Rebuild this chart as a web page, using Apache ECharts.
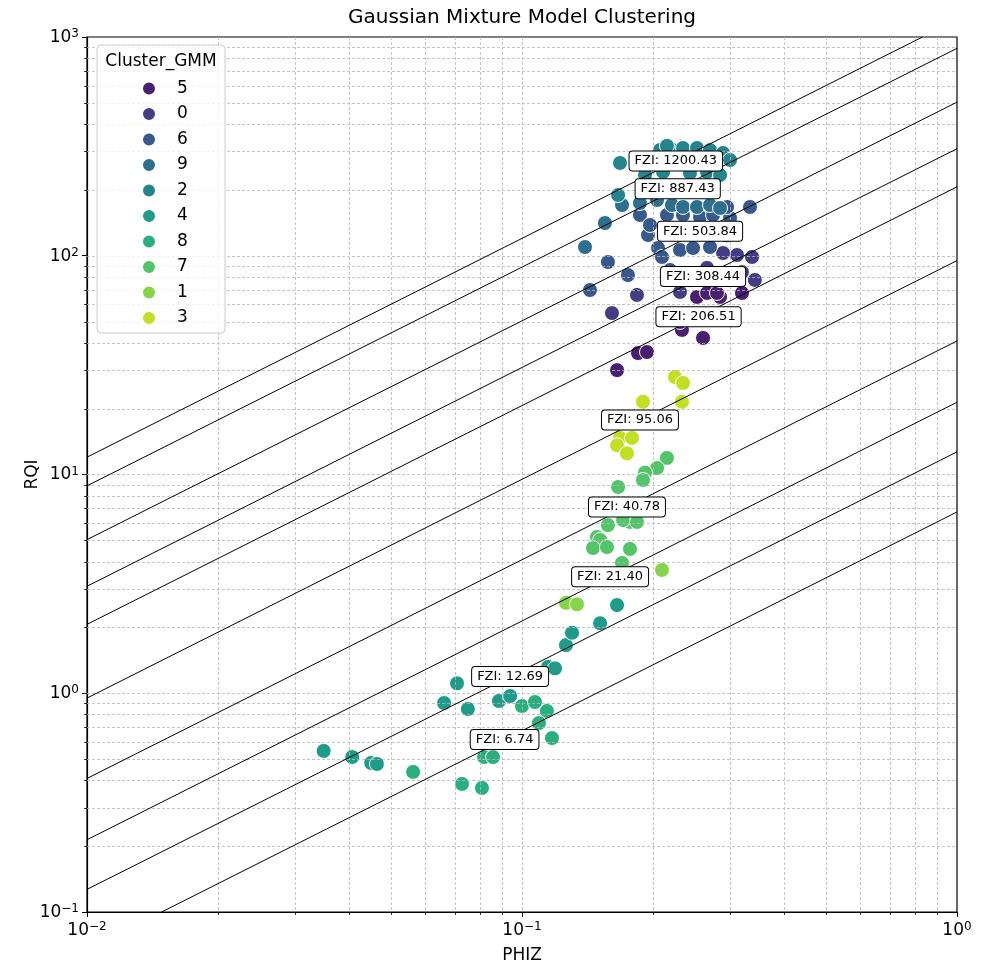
<!DOCTYPE html>
<html>
<head>
<meta charset="utf-8">
<script src="https://cdn.jsdelivr.net/npm/echarts@6/dist/echarts.min.js"></script>
<style>
  html, body { margin: 0; padding: 0; background: #fff; }
  #chart { width: 981px; height: 967px; }
</style>
</head>
<body>
<div id="chart"></div>
<script>
// Axis ranges (log-log)
const phizRange = [0.01, 1];
const rqiRange = [0.1, 1000];

// Flow-zone-indicator lines (RQI = FZI * PHIZ) and where each one is labelled
const fziValues = [1200.43, 887.43, 503.84, 308.44, 206.51, 95.06, 40.78, 21.40, 12.69, 6.74];
const fziLabelPhiz = [0.2257, 0.2280, 0.2566, 0.2607, 0.2546, 0.1867, 0.1743, 0.1594, 0.0939, 0.0912];

// Cluster order in the legend and the viridis colour of each cluster
const clusterOrder = ['5', '0', '6', '9', '2', '4', '8', '7', '1', '3'];
const clusterColors = ['#482071', '#433d84', '#38598c', '#2d708e', '#25858e',
                       '#1e9b8a', '#2ab07f', '#52c569', '#86d549', '#c2df23'];

// Samples per GMM cluster: [PHIZ, RQI]
const gmm5 = [[0.1848, 35.9], [0.1938, 36.3], [0.1654, 30.0], [0.2607, 42.1], [0.2332, 45.8],
              [0.2308, 49.8], [0.2525, 64.8], [0.2663, 67.6], [0.2853, 64.8], [0.3204, 67.6], [0.2807, 67.6]];
const gmm0 = [[0.1838, 66.2], [0.1610, 54.7], [0.2308, 68.3], [0.3379, 98.7], [0.3121, 100.8],
              [0.2899, 102.9], [0.2433, 77.5], [0.2853, 77.5], [0.3204, 84.2], [0.3430, 77.5], [0.2663, 88.0]];
const gmm6 = [[0.1576, 93.6], [0.1752, 81.6], [0.1433, 69.7], [0.1948, 124.4], [0.1867, 153.6],
              [0.1969, 138.2], [0.2154, 153.6], [0.2345, 153.6], [0.2566, 150.4], [0.2749, 153.6],
              [0.3008, 148.8], [0.2961, 167.1], [0.3343, 167.1], [0.2055, 108.5], [0.2098, 98.7],
              [0.2308, 106.2], [0.2473, 108.5], [0.2705, 109.6], [0.2189, 86.1], [0.2240, 128.0],
              [0.2640, 126.0], [0.2950, 124.0]];
const gmm9 = [[0.1396, 109.6], [0.1551, 141.1], [0.1698, 170.6], [0.1867, 174.2], [0.2044, 179.8],
              [0.2212, 170.6], [0.2345, 167.1], [0.2525, 167.1], [0.2705, 170.6], [0.2853, 165.3],
              [0.2000, 205.0], [0.2600, 200.0]];
const gmm2 = [[0.1680, 265.5], [0.1663, 189.5], [0.2076, 304.3], [0.2189, 310.9], [0.2345, 310.9],
              [0.2525, 310.9], [0.2705, 304.3], [0.2899, 294.9], [0.3008, 274.0], [0.2110, 241.5],
              [0.2433, 238.9], [0.2663, 241.5], [0.2154, 318.0], [0.1918, 233.9], [0.2853, 233.9],
              [0.2280, 275.0], [0.2600, 270.0]];
const gmm4 = [[0.0350, 0.545], [0.0407, 0.511], [0.0450, 0.480], [0.0464, 0.475], [0.0662, 0.902],
              [0.0709, 1.11], [0.0751, 0.847], [0.0885, 0.922], [0.0939, 0.971], [0.1148, 1.32],
              [0.1191, 1.30], [0.1262, 1.66], [0.1303, 1.89], [0.1512, 2.09], [0.1654, 2.53]];
const gmm8 = [[0.0562, 0.437], [0.0728, 0.385], [0.0809, 0.369], [0.0818, 0.511], [0.0858, 0.511],
              [0.1000, 0.874], [0.1071, 0.912], [0.1141, 0.830], [0.1094, 0.731], [0.1172, 0.624]];
const gmm7 = [[0.2154, 11.9], [0.2044, 10.7], [0.1918, 10.2], [0.1897, 9.44], [0.1663, 8.77],
              [0.1771, 6.07], [0.1707, 6.19], [0.1838, 6.07], [0.1576, 5.87], [0.1487, 5.18],
              [0.1512, 5.02], [0.1456, 4.61], [0.1568, 4.66], [0.1771, 4.57], [0.1698, 3.94]];
const gmm1 = [[0.2098, 3.66], [0.1262, 2.59], [0.1338, 2.55]];
const gmm3 = [[0.2248, 27.9], [0.2345, 26.2], [0.1897, 21.5], [0.2332, 21.5], [0.2189, 17.2],
              [0.1680, 14.7], [0.1790, 14.7], [0.1654, 13.6], [0.1743, 12.5]];

const clusterData = { '5': gmm5, '0': gmm0, '6': gmm6, '9': gmm9, '2': gmm2,
                      '4': gmm4, '8': gmm8, '7': gmm7, '1': gmm1, '3': gmm3 };

const FONT = 'DejaVu Sans';

// "10" with a raised exponent, like mathtext tick labels
function powLabel(v) {
  const e = Math.round(Math.log10(v));
  return '{b|10}{s|' + (e < 0 ? '\u2212' : '') + Math.abs(e) + '}';
}
const powRich = {
  b: { fontFamily: FONT, fontSize: 17, color: '#000', lineHeight: 18, verticalAlign: 'bottom' },
  s: { fontFamily: FONT, fontSize: 12, color: '#000', lineHeight: 8, verticalAlign: 'top' }
};

// Decade and sub-decade positions for the grid
function logSteps(lo, hi) {
  const out = [];
  for (let d = Math.round(Math.log10(lo)); d < Math.round(Math.log10(hi)); d++) {
    for (let k = 1; k <= 9; k++) out.push({ v: k * Math.pow(10, d), major: k === 1 });
  }
  return out;
}
const xSteps = logSteps(phizRange[0], phizRange[1]);
const ySteps = logSteps(rqiRange[0], rqiRange[1]);

// Grid lines (drawn over the markers) and minor ticks
function renderGrid(params, api) {
  const cs = params.coordSys;
  const L = cs.x, R = cs.x + cs.width, T = cs.y, B = cs.y + cs.height;
  const children = [];
  const gridStyle = { stroke: '#b8b8b8', lineWidth: 0.8, lineDash: [3, 2], fill: null };
  const tickStyle = { stroke: '#000', lineWidth: 0.8, fill: null };
  xSteps.forEach(s => {
    const px = Math.round(api.coord([s.v, 1])[0]) + 0.5;
    if (px > L + 1 && px < R - 1) {
      children.push({ type: 'line', shape: { x1: px, y1: T, x2: px, y2: B }, style: gridStyle });
    }
    if (!s.major && px > L && px < R) {
      children.push({ type: 'line', shape: { x1: px, y1: B, x2: px, y2: B + 3 }, style: tickStyle });
    }
  });
  ySteps.forEach(s => {
    const py = Math.round(api.coord([0.1, s.v])[1]) + 0.5;
    if (py > T + 1 && py < B - 1) {
      children.push({ type: 'line', shape: { x1: L, y1: py, x2: R, y2: py }, style: gridStyle });
    }
    if (!s.major && py > T && py < B) {
      children.push({ type: 'line', shape: { x1: L - 3, y1: py, x2: L, y2: py }, style: tickStyle });
    }
  });
  return { type: 'group', children };
}

const scatterSeries = clusterOrder.map((name, i) => ({
  name,
  type: 'scatter',
  data: clusterData[name],
  symbol: 'circle',
  symbolSize: 15,
  itemStyle: { color: clusterColors[i], borderColor: '#fff', borderWidth: 1, opacity: 1 },
  z: 2,
  silent: true
}));

const fziLineSeries = fziValues.map(f => {
  const xa = Math.max(phizRange[0], rqiRange[0] / f);
  const xb = Math.min(phizRange[1], rqiRange[1] / f);
  return {
    type: 'line',
    data: [[xa, f * xa], [xb, f * xb]],
    symbol: 'none',
    lineStyle: { color: '#000', width: 1 },
    z: 4,
    silent: true
  };
});

const fziLabelSeries = {
  type: 'scatter',
  data: fziValues.map((f, i) => [fziLabelPhiz[i], f * fziLabelPhiz[i], f]),
  symbolSize: 0.1,
  itemStyle: { color: 'rgba(0,0,0,0)', opacity: 1 },
  z: 6,
  silent: true,
  label: {
    show: true,
    position: 'inside',
    opacity: 1,
    formatter: p => 'FZI: ' + p.value[2].toFixed(2),
    fontFamily: FONT,
    fontSize: 13,
    color: '#000',
    backgroundColor: '#fff',
    borderColor: '#000',
    borderWidth: 1,
    borderRadius: 3,
    padding: [3, 5]
  }
};

const chart = echarts.init(document.getElementById('chart'), null, { renderer: 'canvas' });
chart.setOption({
  animation: false,
  backgroundColor: '#fff',
  textStyle: { fontFamily: FONT },
  grid: {
    left: 87, right: 24, top: 37, bottom: 55,
    outerBoundsMode: 'none',
    show: true, borderColor: '#000', borderWidth: 1.2, backgroundColor: 'transparent'
  },
  xAxis: {
    type: 'log', logBase: 10, min: phizRange[0], max: phizRange[1],
    name: 'PHIZ', nameLocation: 'middle', nameGap: 35, nameMoveOverlap: false,
    nameTextStyle: { fontFamily: FONT, fontSize: 17, color: '#000' },
    axisLine: { lineStyle: { color: '#000', width: 1.2 } },
    axisTick: { length: 5, lineStyle: { color: '#000', width: 1 } },
    axisLabel: { formatter: powLabel, rich: powRich, margin: 9 },
    splitLine: { show: false }
  },
  yAxis: {
    type: 'log', logBase: 10, min: rqiRange[0], max: rqiRange[1],
    name: 'RQI', nameLocation: 'middle', nameGap: 46, nameMoveOverlap: false,
    nameTextStyle: { fontFamily: FONT, fontSize: 17, color: '#000' },
    axisLine: { lineStyle: { color: '#000', width: 1.2 } },
    axisTick: { length: 5, lineStyle: { color: '#000', width: 1 } },
    axisLabel: { formatter: powLabel, rich: powRich, margin: 8 },
    splitLine: { show: false }
  },
  legend: {
    data: clusterOrder,
    orient: 'vertical',
    left: 141, top: 80,
    padding: 0,
    itemWidth: 14, itemHeight: 14,
    itemGap: 8.5,
    icon: 'circle',
    z: 20,
    selectedMode: false,
    textStyle: { fontFamily: FONT, fontSize: 17, color: '#000', lineHeight: 17, padding: [0, 0, 0, 16] }
  },
  graphic: [
    {
      type: 'rect', z: 18,
      shape: { x: 97, y: 45, width: 128, height: 288, r: 4 },
      style: { fill: 'rgba(255,255,255,0.8)', stroke: '#cccccc', lineWidth: 1 }
    },
    {
      type: 'text', z: 19,
      x: 161, y: 62,
      style: { text: 'Cluster_GMM', font: '17px "DejaVu Sans"', fill: '#000',
               textAlign: 'center', textVerticalAlign: 'middle' }
    },
    {
      type: 'text', z: 19,
      x: 522, y: 18,
      style: { text: 'Gaussian Mixture Model Clustering', font: '20px "DejaVu Sans"', fill: '#000',
               textAlign: 'center', textVerticalAlign: 'middle' }
    }
  ],
  series: [
    ...scatterSeries,
    {
      type: 'custom',
      data: [[0.1, 1]],
      renderItem: renderGrid,
      z: 3,
      silent: true,
      clip: false
    },
    ...fziLineSeries,
    fziLabelSeries
  ]
});
</script>
</body>
</html>
